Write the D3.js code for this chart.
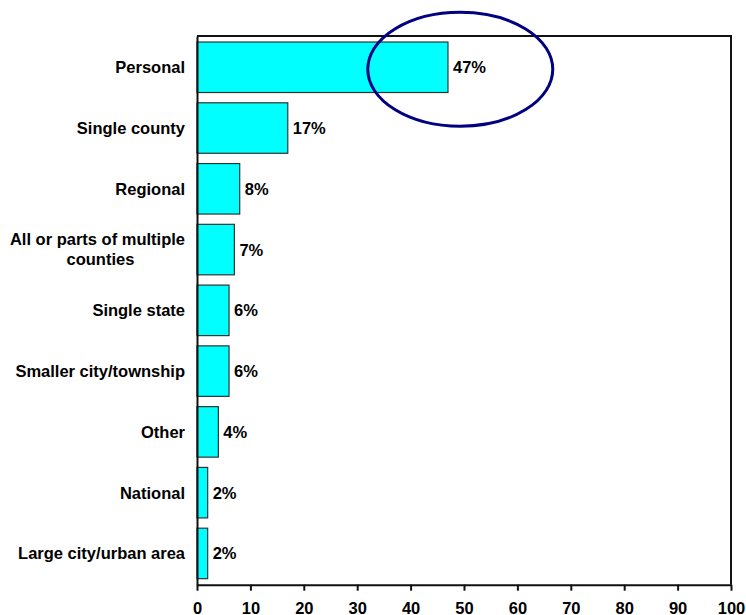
<!DOCTYPE html>
<html>
<head>
<meta charset="utf-8">
<script src="https://cdn.jsdelivr.net/npm/d3@7"></script>
<style>
  html, body { margin: 0; padding: 0; background: #fff; }
  svg { display: block; }
  text { font-family: "Liberation Sans", Arial, sans-serif; font-weight: bold; fill: #000; }
</style>
</head>
<body>
<svg id="chart" width="746" height="615"></svg>
<script>
const categories = ["Personal", "Single county", "Regional", "All or parts of multiple|counties",
  "Single state", "Smaller city/township", "Other", "National", "Large city/urban area"];
const values = [47, 17, 8, 7, 6, 6, 4, 2, 2];
const xTicks = [0, 10, 20, 30, 40, 50, 60, 70, 80, 90, 100];
const highlight = { category: "Personal", value: 49.3 };

const W = 746, H = 615;
const margin = { top: 36, right: 15, bottom: 30.3, left: 197 };
const FS = 16.5;
const svg = d3.select("#chart");

const x = d3.scaleLinear().domain([0, 100]).range([margin.left, W - margin.right]);
const y = d3.scaleBand().domain(categories).range([margin.top, H - margin.bottom]).paddingInner(0.169).paddingOuter(0.099);

// frame (top and right)
svg.append("path")
  .attr("d", `M${x(0)},${margin.top}H${x(100)}V${H - margin.bottom}`)
  .attr("fill", "none").attr("stroke", "#111").attr("stroke-width", 2);

// bars
svg.selectAll("rect.bar").data(categories).join("rect")
  .attr("class", "bar")
  .attr("x", x(0))
  .attr("y", d => y(d))
  .attr("width", (d, i) => x(values[i]) - x(0))
  .attr("height", y.bandwidth())
  .attr("fill", "#00FFFF")
  .attr("stroke", "#333")
  .attr("stroke-width", 1.2);

// value labels
svg.selectAll("text.val").data(categories).join("text")
  .attr("class", "val")
  .attr("x", (d, i) => x(values[i]) + 5)
  .attr("y", d => y(d) + y.bandwidth() / 2)
  .attr("dy", "0.36em")
  .attr("font-size", FS)
  .text((d, i) => values[i] + "%");

// x axis
const xAxis = svg.append("g")
  .attr("transform", `translate(0,${H - margin.bottom})`)
  .call(d3.axisBottom(x).tickValues(xTicks).tickSize(6).tickPadding(12).tickSizeOuter(0));
xAxis.select(".domain").attr("stroke", "#111").attr("stroke-width", 2);
xAxis.selectAll(".tick line").attr("stroke", "#111").attr("stroke-width", 2);
xAxis.selectAll(".tick text").attr("font-size", FS).attr("font-family", "Liberation Sans, Arial, sans-serif").attr("font-weight", "bold").attr("fill", "#000");

// y axis line
const yAxis = svg.append("g")
  .attr("transform", `translate(${x(0)},0)`)
  .call(d3.axisLeft(y).tickSize(0).tickFormat(""));
yAxis.select(".domain").attr("stroke", "#111").attr("stroke-width", 2);

// category labels
const labelX = x(0) - 12;
categories.forEach(c => {
  const lines = c.split("|");
  const cy = y(c) + y.bandwidth() / 2;
  if (lines.length === 1) {
    svg.append("text").attr("x", labelX).attr("y", cy).attr("dy", "0.36em")
      .attr("text-anchor", "end").attr("font-size", FS).text(lines[0]);
  } else {
    const t1 = svg.append("text").attr("x", labelX).attr("y", cy - 11).attr("dy", "0.36em")
      .attr("text-anchor", "end").attr("font-size", FS).text(lines[0]);
    const w1 = t1.node().getComputedTextLength();
    svg.append("text").attr("x", labelX - w1 / 2 + 3).attr("y", cy + 9).attr("dy", "0.36em")
      .attr("text-anchor", "middle").attr("font-size", FS).text(lines[1]);
  }
});

// highlight ellipse
svg.append("ellipse")
  .attr("cx", x(highlight.value))
  .attr("cy", y(highlight.category) + y.bandwidth() / 2 + 2)
  .attr("rx", 92.5).attr("ry", 57)
  .attr("fill", "none").attr("stroke", "#000080").attr("stroke-width", 3);
</script>
</body>
</html>
